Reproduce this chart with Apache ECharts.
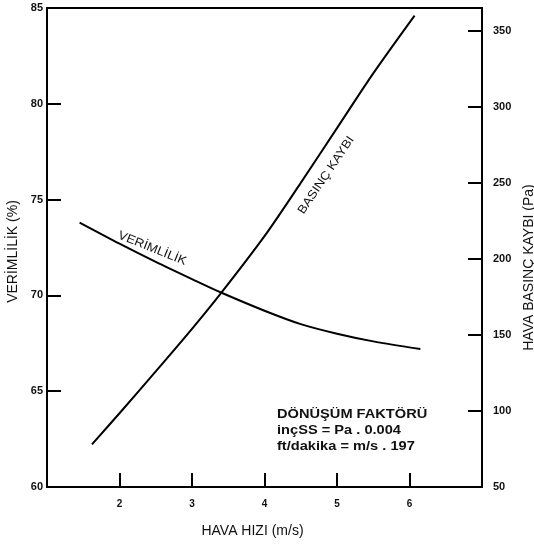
<!DOCTYPE html>
<html><head><meta charset="utf-8">
<script src="https://cdn.jsdelivr.net/npm/echarts@6/dist/echarts.min.js"></script>
<style>html,body{margin:0;padding:0;background:#fff}#c{width:534px;height:548px}</style>
</head><body><div id="c"></div>
<script>
// Efficiency (left axis, %)
const effX = [1.45, 2.0, 2.5, 3.0, 3.4, 4.0, 4.5, 5.0, 5.5, 6.15];
const effY = [73.8, 72.7, 71.75, 70.85, 70.15, 69.2, 68.5, 68.0, 67.6, 67.2];
// Pressure loss (right axis, Pa)
const presX = [1.62, 2.0, 2.5, 3.0, 3.4, 4.0, 4.5, 5.0, 5.5, 6.07];
const presY = [78, 98.5, 126, 154, 177.5, 215, 250, 286, 322, 360];
const xTickLabels = [2, 3, 4, 5, 6];
const leftTickLabels = [60, 65, 70, 75, 80, 85];
const rightTickLabels = [50, 100, 150, 200, 250, 300, 350];
const noteLines = ['DÖNÜŞÜM FAKTÖRÜ', 'inçSS = Pa . 0.004', 'ft/dakika = m/s . 197'];

const FONT = 'Liberation Sans';
const chart = echarts.init(document.getElementById('c'), null, {renderer: 'canvas'});
const axisLine = {show: true, lineStyle: {color: '#000', width: 2}};
const axisTick = {show: true, inside: true, length: 14, lineStyle: {color: '#000', width: 2}};

chart.setOption({
  animation: false,
  backgroundColor: '#fff',
  grid: {left: 47, right: 52, top: 8, bottom: 61, show: true, borderColor: '#000', borderWidth: 2,
    containLabel: false, outerBoundsMode: 'none'},
  xAxis: {
    type: 'value', min: 1, max: 7, interval: 1,
    axisLine, axisTick, splitLine: {show: false},
    axisLabel: {margin: 12, color: '#111', fontFamily: FONT, fontSize: 10, fontWeight: 'bold',
      formatter: v => xTickLabels.includes(v) ? String(v) : ''},
    name: 'HAVA HIZI (m/s)', nameLocation: 'middle', nameGap: 37,
    nameTextStyle: {color: '#111', fontFamily: FONT, fontSize: 14, padding: [0, 24, 0, 0]}
  },
  yAxis: [{
    type: 'value', min: 60, max: 85, interval: 5, position: 'left',
    axisLine, axisTick, splitLine: {show: false},
    axisLabel: {margin: 4, color: '#111', fontFamily: FONT, fontSize: 11, fontWeight: 'bold',
      formatter: v => leftTickLabels.includes(v) ? String(v) : ''},
    name: 'VERİMLİLİK (%)', nameLocation: 'middle', nameGap: 25, nameRotate: 90,
    nameTextStyle: {color: '#111', fontFamily: FONT, fontSize: 14, padding: [0, 8, 0, 0]}
  }, {
    type: 'value', min: 50, max: 365, interval: 50, position: 'right',
    axisLine, axisTick, splitLine: {show: false},
    axisLabel: {margin: 11, color: '#111', fontFamily: FONT, fontSize: 11, fontWeight: 'bold',
      formatter: v => rightTickLabels.includes(v) ? String(v) : ''},
    name: 'HAVA BASINÇ KAYBI (Pa)', nameLocation: 'middle', nameGap: 39, nameRotate: 90,
    nameTextStyle: {color: '#111', fontFamily: FONT, fontSize: 14, padding: [0, 40, 0, 0]}
  }],
  series: [{
    type: 'line', yAxisIndex: 0, smooth: 0.3, showSymbol: false,
    lineStyle: {color: '#000', width: 2},
    data: effX.map((x, i) => [x, effY[i]])
  }, {
    type: 'line', yAxisIndex: 1, smooth: 0.3, showSymbol: false,
    lineStyle: {color: '#000', width: 2},
    data: presX.map((x, i) => [x, presY[i]])
  }]
});

const pEff = chart.convertToPixel({xAxisIndex: 0, yAxisIndex: 0}, [2.45, 72.45]);
const pPres = chart.convertToPixel({xAxisIndex: 0, yAxisIndex: 1}, [4.85, 255]);
chart.setOption({
  graphic: [{
    type: 'text', x: pEff[0], y: pEff[1], rotation: -22 * Math.PI / 180, scaleX: 1.1,
    style: {text: 'VERİMLİLİK', font: '12px "Liberation Sans"', fill: '#111', align: 'center', verticalAlign: 'middle'}
  }, {
    type: 'text', x: pPres[0], y: pPres[1], rotation: 56 * Math.PI / 180, scaleX: 1.1,
    style: {text: 'BASINÇ KAYBI', font: '12px "Liberation Sans"', fill: '#111', align: 'center', verticalAlign: 'middle'}
  }, {
    type: 'text', x: 277, y: 407, scaleX: 1.17,
    style: {text: noteLines.join('\n'), font: 'bold 12.5px "Liberation Sans"', lineHeight: 16, fill: '#111'}
  }]
});
</script></body></html>
